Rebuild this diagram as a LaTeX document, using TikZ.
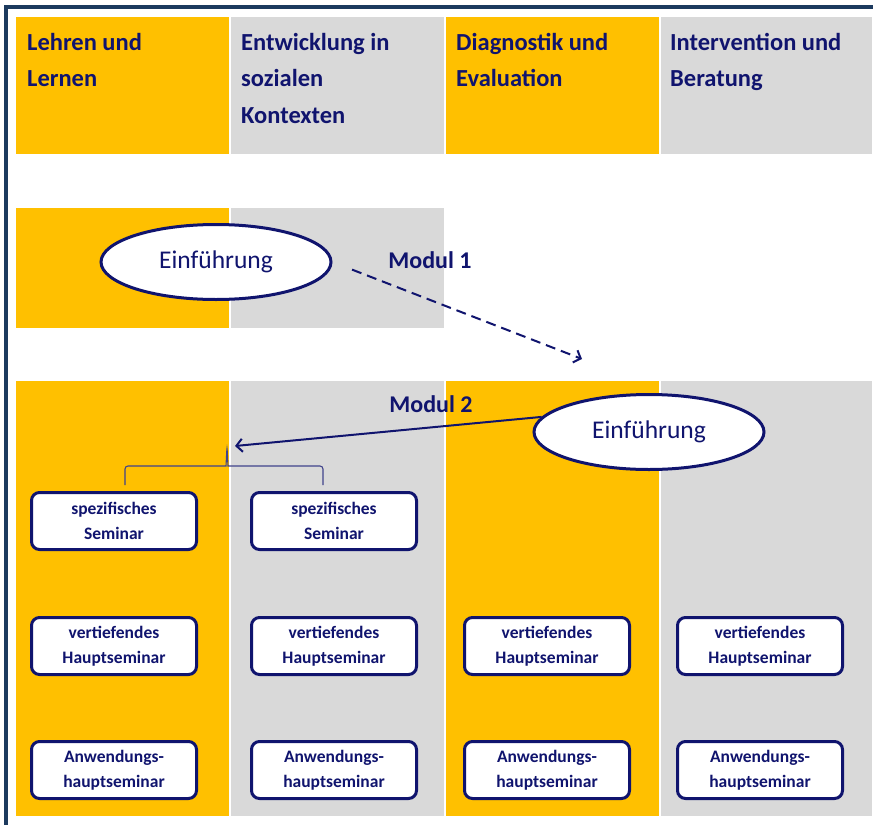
\documentclass[tikz,border=0pt]{standalone}
\usepackage{fontspec}
\setmainfont{Carlito}
\usetikzlibrary{shapes.geometric,arrows.meta}
\definecolor{gelb}{HTML}{FFC000}
\definecolor{grau}{HTML}{D9D9D9}
\definecolor{navy}{HTML}{10146E}
\definecolor{rand}{HTML}{1C3A5E}
\begin{document}
\begin{tikzpicture}[x=1pt,y=-1pt,
	kopf/.style={anchor=north west,inner sep=0pt,align=left,text=navy,font=\bfseries\fontsize{24.5}{36.5}\selectfont},
	einf/.style={ellipse,draw=navy,line width=3pt,fill=white,minimum width=230pt,minimum height=75pt,text=navy,font=\fontsize{25.5}{30}\selectfont},
	modul/.style={text=navy,font=\bfseries\fontsize{24}{28}\selectfont},
	seminar/.style={draw=navy,line width=3pt,fill=white,rounded corners=8pt,minimum width=165pt,minimum height=57pt,inner sep=0pt,align=center,text=navy,font=\bfseries\fontsize{17.5}{25}\selectfont},
	pfeil/.style={draw=navy,line width=2pt,-{Straight Barb[length=6pt,width=13pt]}},
	klammer/.style={draw=navy!80,line width=1.1pt,rounded corners=3pt}]
		\useasboundingbox (0,0) rectangle (873,825);
		\fill[white] (0,0) rectangle (873,825);
		% Rahmen
		\fill[rand] (4,5) rectangle (8,825);
		\fill[rand] (4,5) rectangle (873,9);
		% Spalten
		\foreach \xa/\xb/\farbe in {16/229/gelb,231/444/grau,446/659/gelb,661/872/grau} {
			\fill[\farbe] (\xa,17) rectangle (\xb,154);
			\fill[\farbe] (\xa,381) rectangle (\xb,816);
		}
		\fill[gelb] (16,208) rectangle (229,328);
		\fill[grau] (231,208) rectangle (444,328);
		% Kopfzeile
		\node[kopf] (k1) at (27,33) {Lehren und\\Lernen};
		\node[kopf] (k2) at (241,33) {Entwicklung in\\sozialen\\Kontexten};
		\node[kopf] (k3) at (456,33) {Diagnostik und\\Evaluation};
		\node[kopf] (k4) at (670,33) {Intervention und\\Beratung};
		% Modul 1
		\node[einf] (e1) at (216,262) {Einführung};
		\node[modul] (m1) at (430,260) {Modul 1};
		\coordinate (z1) at (582,359);
		\draw[pfeil,dash pattern=on 10pt off 6pt,shorten <=21pt] (e1.east) -- (z1);
		% Modul 2
		\node[modul] (m2) at (431,404) {Modul 2};
		\node[einf] (e2) at (649,432) {Einführung};
		\coordinate (ziel) at (235,446);
		\draw[pfeil] (e2.172) -- (ziel);
		\draw[klammer] (125,485) |- (223,466) .. controls (226,466) .. (227,447) .. controls (228,466) .. (231,466) -| (323,485);
		% Seminare
		\foreach \i/\x in {1/114,2/334}
			\node[seminar] (s\i) at (\x,521) {spezifisches\\Seminar};
		\foreach \i/\x in {1/114,2/334,3/547,4/760} {
			\node[seminar] (v\i) at (\x,646) {vertiefendes\\Hauptseminar};
			\node[seminar] (a\i) at (\x,770) {Anwendungs-\\hauptseminar};
		}
\end{tikzpicture}
\end{document}
